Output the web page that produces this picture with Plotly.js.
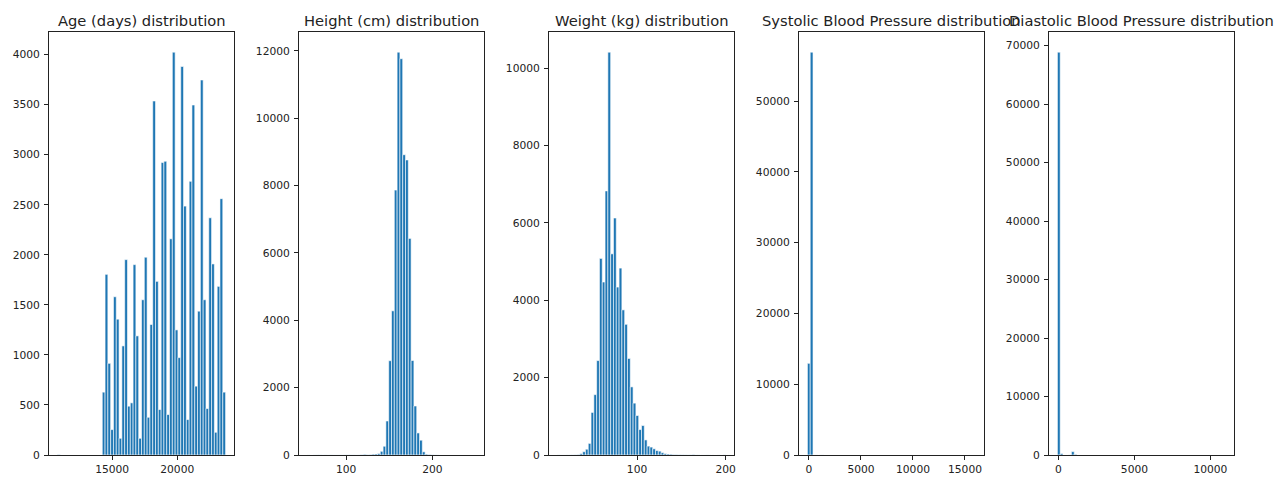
<!DOCTYPE html>
<html>
<head>
<meta charset="utf-8">
<script src="https://cdn.plot.ly/plotly-3.0.1.min.js"></script>
<style>html,body{margin:0;padding:0;background:#fff;}#chart{width:1277px;height:478px;}</style>
</head>
<body>
<div id="chart"></div>
<script>
// ---- data: 60-bin histograms (counts per bin) and data ranges ----
const titles = ["Age (days) distribution", "Height (cm) distribution", "Weight (kg) distribution",
  "Systolic Blood Pressure distribution", "Diastolic Blood Pressure distribution"];

const ageRange = [10798, 23713];
const ageCounts = [4,0,0,0,0,0,0,0,0,0,0,0,0,0,0,0,
  628,1805,916,254,1581,1357,167,1090,1952,488,521,1902,1190,167,1551,1976,377,1304,3537,1735,
  454,2922,2935,404,2160,4025,1250,973,3882,2487,354,2734,3497,688,1437,3747,1551,464,2370,1909,
  227,1685,2561,628];

const heightRange = [55, 250];
const heightCounts = [2,0,2,3,3,2,3,2,3,2,2,2,2,3,4,3,3,2,3,8,
  20,8,12,25,30,45,110,260,1010,2800,4280,7865,11960,11765,8915,8760,6430,2805,1455,655,
  440,95,25,15,5,3,2,1,0,0,1,0,0,0,0,0,0,0,0,1];

const weightRange = [10, 200];
const weightCounts = [2,1,1,2,2,3,5,12,35,85,150,300,1100,1560,2440,5080,4470,6825,10410,5198,
  6124,4340,4830,3750,3377,2495,1760,1340,1020,657,761,390,230,205,160,115,100,60,35,25,
  20,12,10,6,5,4,3,4,12,2,2,1,1,2,1,1,0,1,0,3];

const apHiRange = [-150, 16020];
const apHiCounts = [12950,56900,5,6,6,10,4,2,0,0,0,0,0,0,0,0,0,0,0,0,
  0,0,0,0,0,0,0,0,0,0,0,0,0,0,0,0,0,0,0,0,
  0,1,0,1,0,0,0,0,1,0,0,0,2,0,0,0,0,0,0,1];

const apLoRange = [-70, 11000];
const apLoCounts = [68900,240,2,3,15,580,110,5,3,2,1,0,0,0,0,0,0,0,0,0,
  0,0,0,0,0,0,0,0,0,0,0,0,0,0,0,0,0,0,0,0,
  0,0,0,2,0,0,0,0,1,0,0,1,0,1,1,0,0,0,0,2];

const xTickStep = [5000, 100, 100, 5000, 5000];
const yTickStep = [500, 2000, 2000, 10000, 10000];

// ---- build ----
const sets = [
  [ageRange, ageCounts], [heightRange, heightCounts], [weightRange, weightCounts],
  [apHiRange, apHiCounts], [apLoRange, apLoCounts]
];
const W = 1277, H = 478;
const axLeft = [49, 299, 549, 799, 1049];
const axW = 185;
const axTop = 32, axBottom = 455;

const traces = [];
const layout = {
  width: W, height: H,
  margin: {l: 0, r: 0, t: 0, b: 0},
  paper_bgcolor: '#fff', plot_bgcolor: '#fff',
  showlegend: false, bargap: 0,
  font: {family: 'DejaVu Sans', size: 10.7, color: '#222'},
  annotations: []
};

sets.forEach(([rng, counts], k) => {
  const n = counts.length;
  const w = (rng[1] - rng[0]) / n;
  const id = k === 0 ? '' : String(k + 1);
  traces.push({
    type: 'bar',
    x0: rng[0] + w / 2, dx: w, y: counts, width: w,
    xaxis: 'x' + id, yaxis: 'y' + id,
    marker: {color: '#1f77b4', line: {color: '#ffffff', width: 0.6}},
    hoverinfo: 'x+y'
  });
  const R = rng[1] - rng[0];
  const ymax = Math.max(...counts);
  const common = {
    showline: true, mirror: true, linecolor: '#222', linewidth: 1,
    ticks: 'outside', ticklen: 4, tickwidth: 1, tickcolor: '#222',
    showgrid: false, zeroline: false, tickformat: 'd',
    tickfont: {family: 'DejaVu Sans', size: 10.7, color: '#222'}
  };
  layout['xaxis' + id] = Object.assign({}, common, {
    domain: [axLeft[k] / W, (axLeft[k] + axW) / W],
    range: [rng[0] - 0.05 * R, rng[1] + 0.05 * R],
    anchor: 'y' + id, tick0: 0, dtick: xTickStep[k]
  });
  layout['yaxis' + id] = Object.assign({}, common, {
    domain: [(H - axBottom) / H, (H - axTop) / H],
    range: [0, ymax * 1.05],
    anchor: 'x' + id, tick0: 0, dtick: yTickStep[k], ticklabelstandoff: 2
  });
  layout.annotations.push({
    text: titles[k], xref: 'paper', yref: 'paper',
    x: (axLeft[k] + axW / 2) / W, y: 1 - 20.5 / H,
    xanchor: 'center', yanchor: 'middle', showarrow: false,
    font: {family: 'DejaVu Sans', size: 14.7, color: '#222'}
  });
});

Plotly.newPlot('chart', traces, layout, {staticPlot: true});
</script>
</body>
</html>
